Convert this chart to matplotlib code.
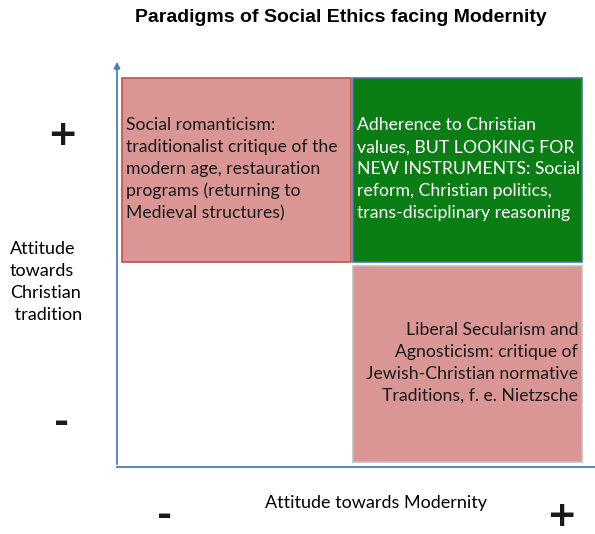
import matplotlib.pyplot as plt
from matplotlib.patches import Rectangle, FancyArrowPatch

# quadrant content: (column, row) -> text ; column 0 = modernity "-", row 1 = tradition "+"
quadrant_cells = [(0, 1), (1, 1), (1, 0)]
quadrant_texts = [
    "Social romanticism:\ntraditionalist critique of the\nmodern age, restauration\nprograms (returning to\nMedieval structures)",
    "Adherence to Christian\nvalues, BUT LOOKING FOR\nNEW INSTRUMENTS: Social\nreform, Christian politics,\ntrans-disciplinary reasoning",
    "Liberal Secularism and\nAgnosticism: critique of\nJewish-Christian normative\nTraditions, f. e. Nietzsche",
]
title = "Paradigms of Social Ethics facing Modernity"
x_label = "Attitude towards Modernity"
y_label = "Attitude\ntowards\nChristian\n tradition"
sign_labels = ["-", "+"]

face_colors = ["#d99694", "#0b7d15", "#d99694"]
edge_colors = ["#c0504d", "#4f6fa8", "#bfbfbf"]
text_colors = ["#1a1a1a", "white", "#1a1a1a"]
text_align = ["left", "left", "right"]

plt.rcParams['font.family'] = ['Lato', 'DejaVu Sans']

W, H = 595, 534
fig = plt.figure(figsize=(W / 100, H / 100), dpi=100)

# axes in pixels: left edge at 117, bottom at 467, top at 62
ax = fig.add_axes([117 / W, (H - 467) / H, (W - 117) / W, (467 - 62) / H])
ax.set_xlim(0, 478)
ax.set_ylim(0, 405)
ax.axis('off')

col_x = [5, 236]
col_w = 229
row_y = [5, 205]
row_h = [196, 184]

for (c, r), txt, fc, ec, tc, ha in zip(quadrant_cells, quadrant_texts, face_colors,
                                       edge_colors, text_colors, text_align):
    x0, y0 = col_x[c], row_y[r]
    ax.add_patch(Rectangle((x0, y0), col_w, row_h[r], facecolor=fc, edgecolor=ec, lw=1.2))
    tx = x0 + 4 if ha == "left" else x0 + col_w - 4
    ax.text(tx, y0 + row_h[r] / 2 + 1, txt, ha=ha, va='center', color=tc,
            fontsize=12.7, linespacing=1.45)

# axes lines
axis_col = "#4a7ebb"
ax.plot([0, 478], [0, 0], color=axis_col, lw=1.3, clip_on=False)
ax.add_patch(FancyArrowPatch((0, 0), (0, 408), arrowstyle='-|>', mutation_scale=9,
                             color=axis_col, lw=1.3, clip_on=False))

fig.text(341 / W, 1 - 18 / H, title, ha='center', va='center', fontsize=14,
         fontweight='bold', family='Liberation Sans')
fig.text(376 / W, 1 - 503 / H, x_label, ha='center', va='center', fontsize=13)
fig.text(10 / W, 1 - 282 / H, y_label, ha='left', va='center', fontsize=13,
         linespacing=1.45)

sign_kw = dict(ha='center', va='center', fontsize=26, fontweight='bold',
               family='DejaVu Sans', color='#1a1a1a')
fig.text(62 / W, 1 - 135 / H, sign_labels[1], **sign_kw)
fig.text(62 / W, 1 - 423 / H, sign_labels[0], **sign_kw)
fig.text(165 / W, 1 - 516 / H, sign_labels[0], **sign_kw)
fig.text(561 / W, 1 - 516 / H, sign_labels[1], **sign_kw)

fig.savefig('out.png', dpi=100)
